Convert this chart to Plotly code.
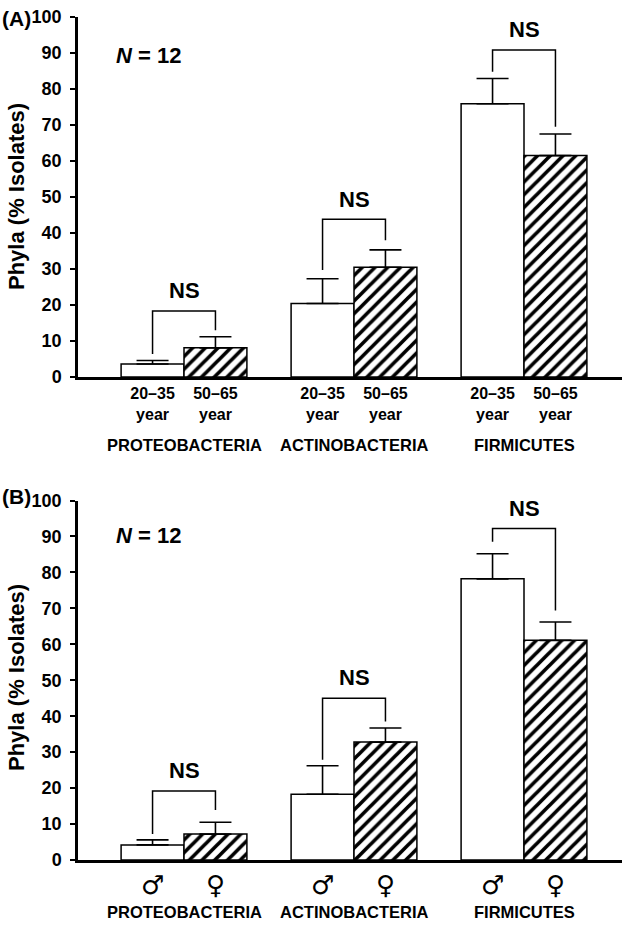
import plotly.graph_objects as go

# ---------------- data ----------------
phyla = ["PROTEOBACTERIA", "ACTINOBACTERIA", "FIRMICUTES"]

# Panel A: age groups
age_labels = ["20–35<br>year", "50–65<br>year"]
young = [3.6, 20.4, 75.9]
young_err = [1.0, 6.9, 7.0]
old = [8.1, 30.5, 61.5]
old_err = [3.1, 4.8, 6.0]
a_bracket_top = [18.3, 43.8, 90.8]
a_left_leg = [6.4, 29.7, 84.8]
a_right_leg = [13.0, 38.0, 69.5]
a_ns_y = [24.0, 49.4, 96.4]

# Panel B: sex
sex_labels = ["♂", "♀"]
male = [4.2, 18.3, 78.2]
male_err = [1.4, 7.9, 7.0]
female = [7.2, 32.8, 61.1]
female_err = [3.3, 3.9, 5.1]
b_bracket_top = [19.2, 45.0, 92.2]
b_left_leg = [7.2, 27.9, 88.5]
b_right_leg = [13.9, 38.5, 69.4]
b_ns_y = [25.0, 50.7, 97.7]

y_ticks = list(range(0, 101, 10))

# ---------------- layout helpers ----------------
W, H = 622, 925
FONT = "Liberation Sans, Arial, sans-serif"
BW = 0.37  # bar width in category units
pos = list(range(len(phyla)))
xl = [p - BW / 2 for p in pos]
xr = [p + BW / 2 for p in pos]

def px(x):
    return x / W

def py(y):
    return 1 - y / H

fig = go.Figure()

def add_panel(ax, first, first_err, second, second_err):
    xa = "x" if ax == 1 else "x2"
    ya = "y" if ax == 1 else "y2"
    err_style = dict(type="data", symmetric=False, color="black", thickness=1.6, width=16)
    fig.add_trace(go.Bar(
        x=pos, y=first, width=BW, offset=-BW, xaxis=xa, yaxis=ya,
        marker=dict(color="white", line=dict(color="black", width=1.5)),
        error_y=dict(array=first_err, arrayminus=[0] * len(first), **err_style),
        showlegend=False,
    ))
    fig.add_trace(go.Bar(
        x=pos, y=second, width=BW, offset=0, xaxis=xa, yaxis=ya,
        marker=dict(color="white", line=dict(color="black", width=1.5),
                    pattern=dict(shape="/", fgcolor="black", bgcolor="white",
                                 size=9, solidity=0.4)),
        error_y=dict(array=second_err, arrayminus=[0] * len(second), **err_style),
        showlegend=False,
    ))

add_panel(1, young, young_err, old, old_err)
add_panel(2, male, male_err, female, female_err)

def add_brackets(ax, top, left, right, ns_y):
    xa = "x" if ax == 1 else "x2"
    ya = "y" if ax == 1 else "y2"
    for i in pos:
        fig.add_shape(type="path", xref=xa, yref=ya,
                      path=f"M {xl[i]},{left[i]} L {xl[i]},{top[i]} L {xr[i]},{top[i]} L {xr[i]},{right[i]}",
                      line=dict(color="black", width=1.5))
        fig.add_annotation(x=pos[i], y=ns_y[i], xref=xa, yref=ya, text="NS",
                           showarrow=False, font=dict(family=FONT, size=22, color="black", weight="bold"))

add_brackets(1, a_bracket_top, a_left_leg, a_right_leg, a_ns_y)
add_brackets(2, b_bracket_top, b_left_leg, b_right_leg, b_ns_y)

x_range = [-(184 - 78) / 170, -(184 - 78) / 170 + 544 / 170]
x_dom = [px(78), 1]
yA_dom = [py(377), py(17)]
yB_dom = [py(860), py(500.5)]

yax = dict(range=[0, 100], tickvals=y_ticks, showline=True, linewidth=2.5, linecolor="black",
           ticks="outside", ticklen=5, tickwidth=2, tickcolor="black", showgrid=False,
           zeroline=False, ticklabelstandoff=5, automargin=False,
           tickfont=dict(family=FONT, size=18, color="black", weight="bold"), fixedrange=True)

xtick_vals = [v for p in pos for v in (p - BW / 2, p + BW / 2)]
xax = dict(range=x_range, domain=x_dom, showline=True, linewidth=2.5, linecolor="black",
           ticks="", showgrid=False, zeroline=False, automargin=False, tickvals=xtick_vals,
           fixedrange=True)

fig.update_layout(
    width=W, height=H, margin=dict(l=0, r=0, t=0, b=0),
    template="none", plot_bgcolor="white", paper_bgcolor="white",
    barmode="overlay", showlegend=False,
    xaxis=dict(**xax, anchor="y", ticktext=age_labels * len(phyla),
               tickfont=dict(family=FONT, size=16, color="black", weight="bold")),
    yaxis=dict(**yax, domain=yA_dom, anchor="x"),
    xaxis2=dict(**xax, anchor="y2", ticktext=sex_labels * len(phyla),
                tickfont=dict(family="DejaVu Sans", size=26, color="black")),
    yaxis2=dict(**yax, domain=yB_dom, anchor="x2"),
)

# category labels
for i, name in enumerate(phyla):
    for ax, ycen in ((1, 445), (2, 912)):
        fig.add_annotation(x=pos[i], xref="x" if ax == 1 else "x2", y=py(ycen), yref="paper",
                           text=name, showarrow=False, yanchor="middle",
                           font=dict(family=FONT, size=16.5, color="black", weight="bold"))

# panel labels, N, y titles
for lab, ycen in (("(A)", 18), ("(B)", 497)):
    fig.add_annotation(x=0, xref="paper", y=py(ycen), yref="paper", text=lab, showarrow=False,
                       xanchor="left", yanchor="middle",
                       font=dict(family=FONT, size=21, color="black", weight="bold"))
for ycen in (55, 535):
    fig.add_annotation(x=px(114), xref="paper", y=py(ycen), yref="paper", text="<i>N</i> = 12",
                       showarrow=False, xanchor="left", yanchor="middle",
                       font=dict(family=FONT, size=22, color="black", weight="bold"))
for ycen in (197, 678):
    fig.add_annotation(x=px(16), xref="paper", y=py(ycen), yref="paper", text="Phyla (% Isolates)",
                       showarrow=False, textangle=-90, xanchor="center", yanchor="middle",
                       font=dict(family=FONT, size=22, color="black", weight="bold"))

fig.write_html("out.html", config={"displayModeBar": False},
               post_script="document.body.style.margin='0';")
